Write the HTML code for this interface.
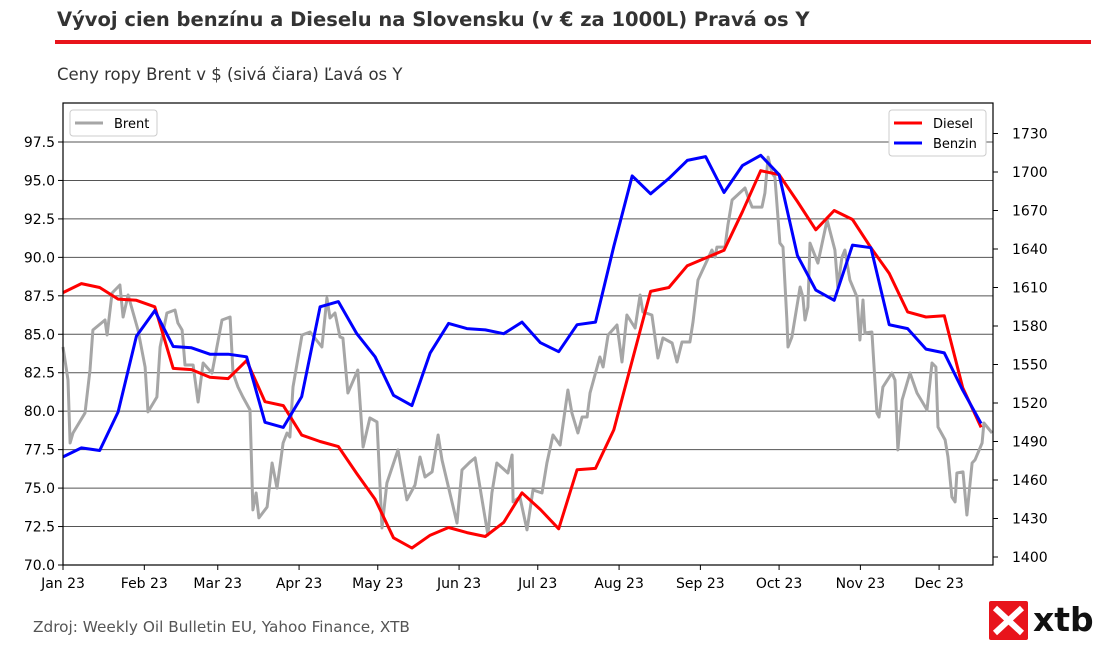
<!DOCTYPE html>
<html><head><meta charset="utf-8"><style>
body{margin:0;background:#fff;width:1099px;height:650px;overflow:hidden;font-family:"Liberation Sans","DejaVu Sans",sans-serif}
</style></head><body>
<svg id="c" width="1099" height="650" xmlns="http://www.w3.org/2000/svg">
<text x="57" y="26" font-size="19.5" font-weight="bold" fill="#333" font-family="DejaVu Sans,sans-serif">Vývoj cien benzínu a Dieselu na Slovensku (v € za 1000L) Pravá os Y</text>
<rect x="55" y="40" width="1036" height="4" fill="#e8141b"/>
<text x="57" y="80" font-size="16.5" fill="#333" font-family="DejaVu Sans,sans-serif">Ceny ropy Brent v $ (sivá čiara) Ľavá os Y</text>
<g id="grid"></g><g id="series"></g><g id="axes"></g>
<text x="33" y="632" font-size="15.3" fill="#555" font-family="DejaVu Sans,sans-serif">Zdroj: Weekly Oil Bulletin EU, Yahoo Finance, XTB</text>
<g>
<rect x="989" y="601" width="39" height="39" fill="#e8141b" rx="2"/>
<path d="M995 608 L1022 633 M1022 608 L995 633" stroke="#fff" stroke-width="6"/>
<text x="1033" y="631" font-size="33" font-weight="bold" fill="#111" font-family="DejaVu Sans,sans-serif">xtb</text>
</g>
</svg>
<script>
const monthLabels=["Jan 23","Feb 23","Mar 23","Apr 23","May 23","Jun 23","Jul 23","Aug 23","Sep 23","Oct 23","Nov 23","Dec 23"];
const monthDays=[0,31,59,90,120,151,181,212,243,273,304,334];
const leftTicks=[70,72.5,75,77.5,80,82.5,85,87.5,90,92.5,95,97.5];
const rightTicks=[1400,1430,1460,1490,1520,1550,1580,1610,1640,1670,1700,1730];
const weekDays=[0,7,14,21,28,35,42,49,56,63,70,77,84,91,98,105,112,119,126,133,140,147,154,161,168,175,182,189,196,203,210,217,224,231,238,245,252,259,266,273,280,287,294,301,308,315,322,329,336,343,350];
const diesel=[1606,1613,1610,1601,1600,1595,1547,1546,1540,1539,1553,1521,1518,1495,1490,1486,1465,1445,1415,1407,1417,1423,1419,1416,1427,1450,1437,1422,1468,1469,1499,1553,1607,1610,1627,1633,1639,1669,1701,1698,1677,1655,1670,1663,1641,1621,1591,1587,1588,1532,1501];
const benzin=[1478,1485,1483,1513,1572,1592,1564,1563,1558,1558,1556,1505,1501,1525,1595,1599,1574,1556,1526,1518,1559,1582,1578,1577,1574,1583,1567,1560,1581,1583,1642,1697,1683,1695,1709,1712,1684,1705,1713,1698,1635,1608,1600,1643,1641,1581,1578,1562,1559,1530,1504];
const brentDays=[0,1.9,2.7,3.8,8.4,10.3,11.4,16,16.8,18.7,21.7,22.9,24.8,28.6,31.3,32.4,35.8,37,39.6,42.7,43.8,45.4,46.5,49.6,51.5,53.4,56.8,60.6,63.7,64.8,66.7,68.6,71.3,72.4,73.6,74.7,77.8,79.7,81.6,83.9,85.4,86.5,87.7,91.1,94.2,98.7,100.6,101.8,103.7,105.6,106.7,108.6,112.4,114.4,117,119.7,121.6,123.5,127.7,131.1,134.2,136.1,138,140.7,143,144.5,150.2,152.1,155.2,157.1,162,163.5,165.4,169.6,171.2,171.6,174.2,176.9,179.2,182.6,184.5,186.8,189.5,192.5,194,196.3,197.9,199.8,200.9,204.7,205.9,207.8,211.2,213.1,215,218.1,220,221.1,224.5,226.8,228.7,232.2,234.1,236,239,240.2,242.1,247.4,248.6,249.3,252.4,253.5,255.1,260,261.2,262.7,266.5,267.6,268.8,270.3,271.4,273.3,274.5,276,276.4,277.9,281,282.1,282.9,284,284.8,287.8,291.3,294.3,295.4,297,298.1,300,302.7,303.8,305,305.7,308.4,310.3,311.1,312.6,316,317.2,318.3,319.9,322.9,325.6,329.4,331.3,332.8,333.6,336.3,337.4,338.9,340.1,340.8,343.1,344.6,346.6,347.7,350.4,351.1,354.2];
const brent=[84.17,82.03,77.93,78.58,79.88,82.68,85.28,85.93,84.95,87.68,88.2,86.12,87.55,85.28,82.87,79.95,80.92,84.17,86.38,86.58,85.73,85.28,83,83,80.6,83.13,82.48,85.93,86.12,82.48,81.57,80.92,80.08,73.58,74.68,73.06,73.77,76.63,75,77.93,78.58,78.32,81.57,84.95,85.15,84.17,87.36,86.06,86.38,84.82,84.76,81.18,82.68,77.67,79.56,79.3,72.41,75.33,77.48,74.23,75.2,77.02,75.72,76.05,78.45,76.83,72.73,76.18,76.7,76.96,71.95,74.68,76.63,75.98,77.15,74.1,74.42,72.28,74.88,74.68,76.63,78.45,77.8,81.38,79.88,78.58,79.62,79.62,81.18,83.52,82.87,84.95,85.6,83.2,86.25,85.41,87.55,86.45,86.25,83.46,84.76,84.43,83.2,84.5,84.5,85.8,88.53,90.48,90.02,90.67,90.67,92.1,93.73,94.51,93.92,93.27,93.27,94.18,96.52,95.48,95.22,90.93,90.67,85.93,84.17,84.82,88.07,87.42,85.93,86.77,90.93,89.63,92.43,90.48,88.07,90.02,90.48,88.53,87.42,84.63,87.23,85.08,85.15,79.88,79.62,81.57,82.48,82.03,77.48,80.73,82.48,81.18,80.08,83.13,82.87,78.97,78.13,77.02,74.42,74.1,75.98,76.05,73.25,76.63,76.83,77.93,79.23,78.58];

const X0=63,X1=993,Y0=103,Y1=565,NS="http://www.w3.org/2000/svg";
const xs=d=>X0+d*2.623;
const yL=v=>565-(v-70)*15.382;
const yR=v=>557-(v-1400)*38.5/30;
function mk(t,a,p){const e=document.createElementNS(NS,t);for(const k in a)e.setAttribute(k,a[k]);p.appendChild(e);return e;}
const grid=document.getElementById('grid'),ser=document.getElementById('series'),ax=document.getElementById('axes');
leftTicks.forEach(v=>{if(v===70)return;const l=mk('line',{x1:X0,x2:X1,y1:yL(v),y2:yL(v),stroke:'#555','stroke-width':1},grid);

});
function line(ds,vs,f,col,name){const p=mk('polyline',{points:ds.map((d,i)=>xs(d).toFixed(1)+','+f(vs[i]).toFixed(1)).join(' '),fill:'none',stroke:col,'stroke-width':3,'stroke-linejoin':'round'},ser);

}
line(brentDays,brent,yL,'#a6a6a6','brent-line');
line(weekDays,diesel,yR,'#ff0000','diesel-line');
line(weekDays,benzin,yR,'#0000ff','benzin-line');
const fr=mk('rect',{x:X0,y:Y0,width:X1-X0,height:Y1-Y0,fill:'none',stroke:'#000','stroke-width':1.2},ax);


const tf='font-family:"DejaVu Sans",sans-serif;font-size:14px';
leftTicks.forEach(v=>{mk('line',{x1:X0-5,x2:X0,y1:yL(v),y2:yL(v),stroke:'#000'},ax);
const t=mk('text',{x:X0-8,y:yL(v)+5,'text-anchor':'end',style:tf},ax);t.textContent=v.toFixed(1);

});
rightTicks.forEach(v=>{mk('line',{x1:X1,x2:X1+5,y1:yR(v),y2:yR(v),stroke:'#000'},ax);
const t=mk('text',{x:X1+19,y:yR(v)+5,style:tf},ax);t.textContent=v;

});
monthDays.forEach((d,i)=>{mk('line',{x1:xs(d),x2:xs(d),y1:Y1,y2:Y1+5,stroke:'#000'},ax);
const t=mk('text',{x:xs(d),y:Y1+23,'text-anchor':'middle',style:tf},ax);t.textContent=monthLabels[i];

});
function legend(x,y,w,items,name){const g=mk('g',{},ax);


mk('rect',{x:x,y:y,width:w,height:items.length*20+6,rx:3,fill:'#fff',stroke:'#ccc'},g);
items.forEach((it,i)=>{const yy=y+13+i*20;mk('line',{x1:x+5,x2:x+33,y1:yy,y2:yy,stroke:it[1],'stroke-width':3},g);
const t=mk('text',{x:x+44,y:yy+5,style:'font-family:"DejaVu Sans",sans-serif;font-size:13px'},g);t.textContent=it[0];});}
legend(70,110,87,[['Brent','#a6a6a6']],'brent-legend');
legend(889,110,97,[['Diesel','#ff0000'],['Benzin','#0000ff']],'fuel-legend');
</script>
</body></html>
